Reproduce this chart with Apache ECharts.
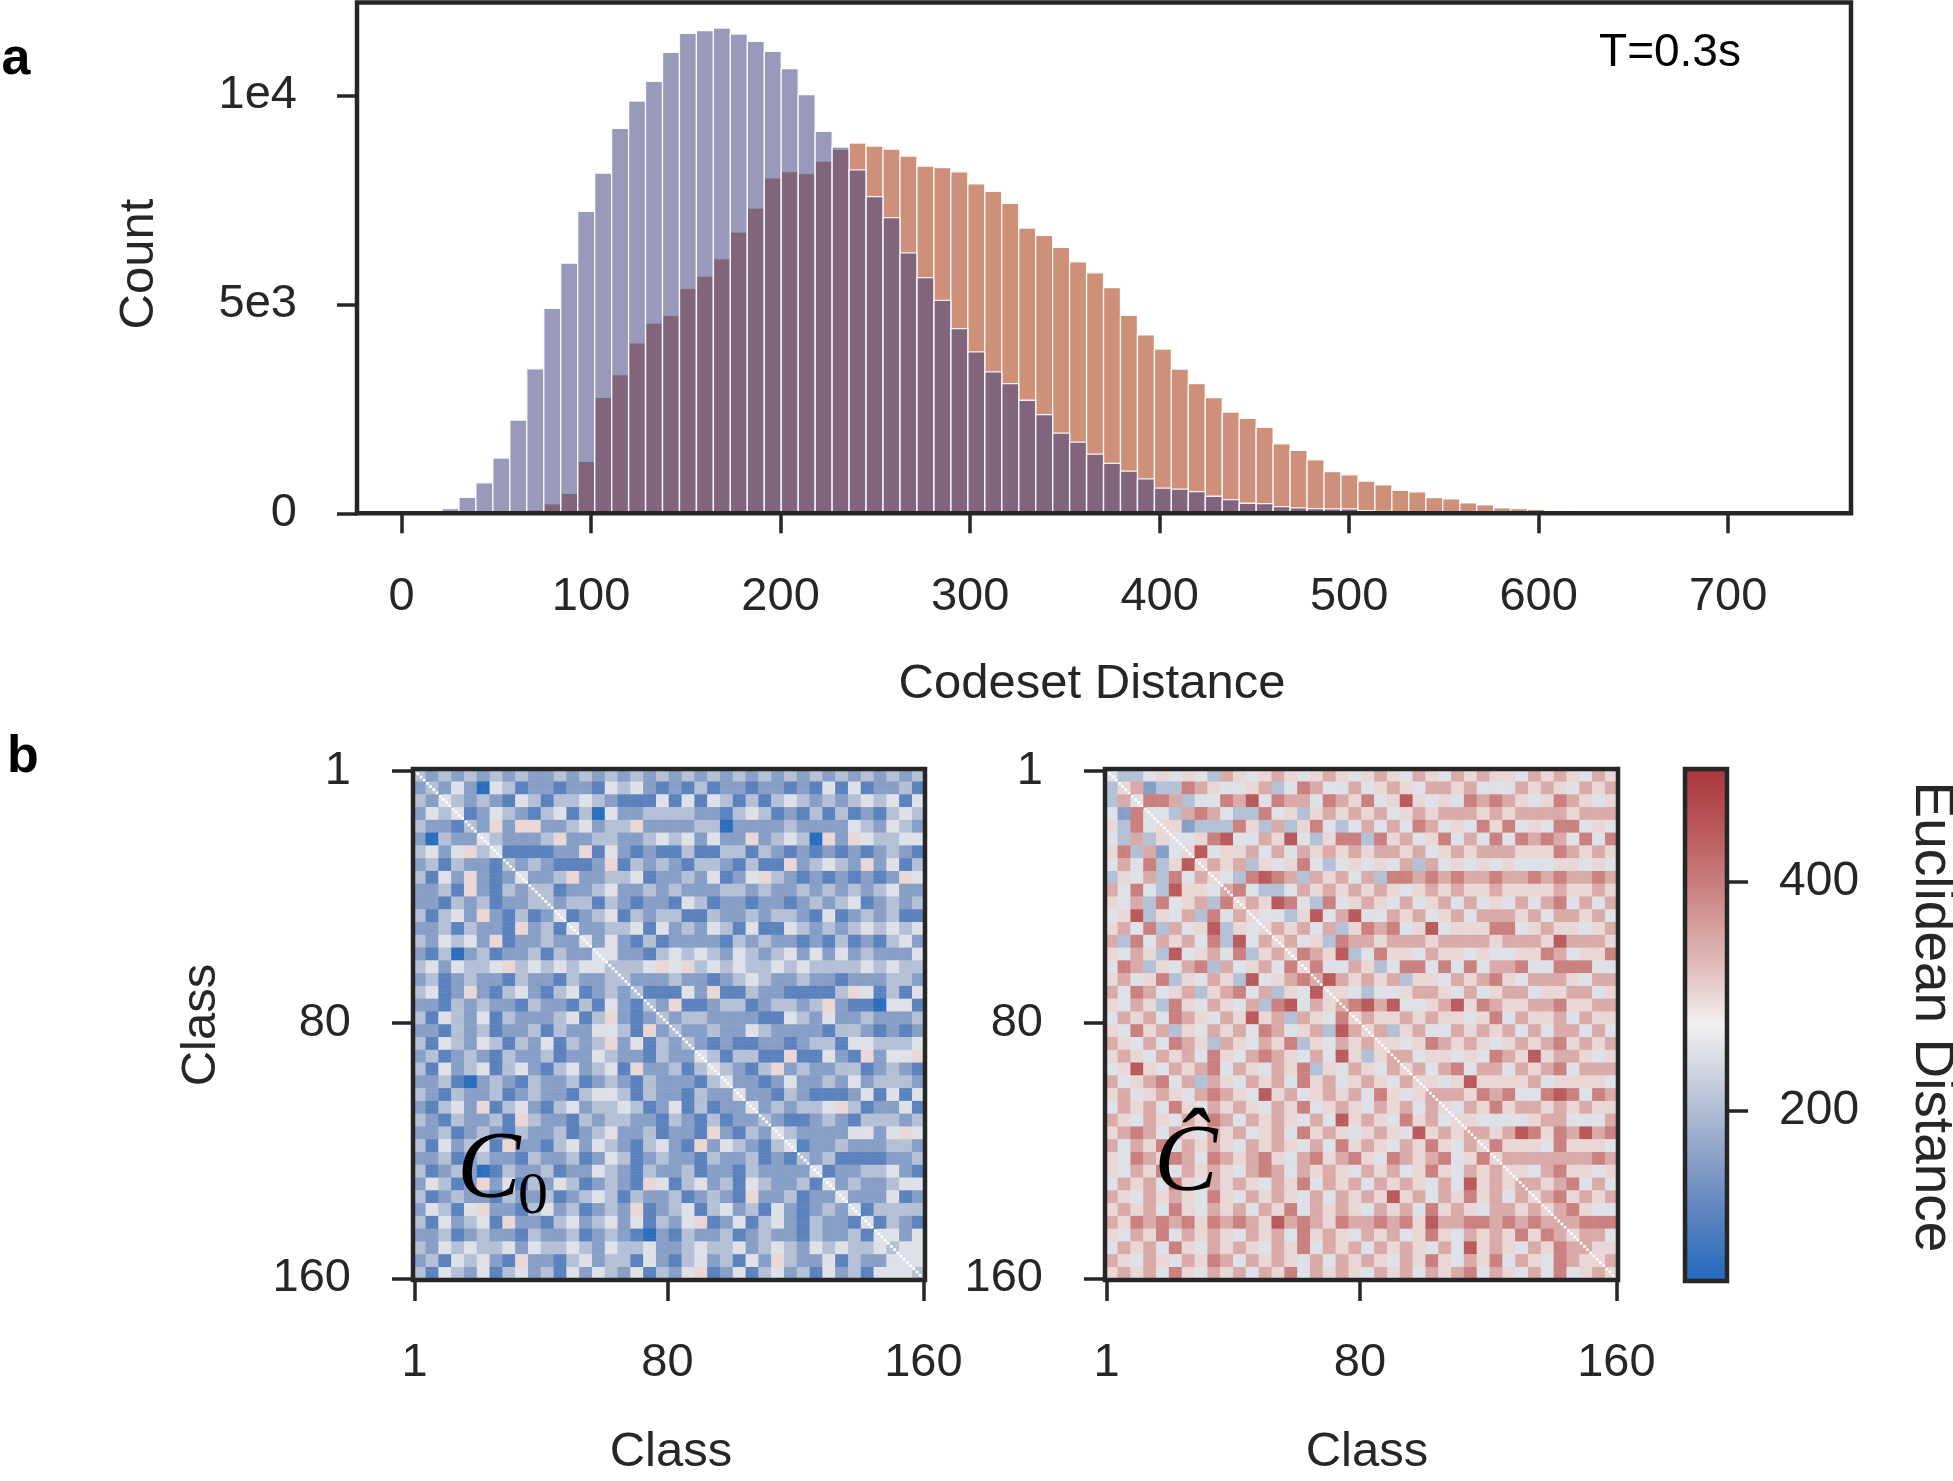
<!DOCTYPE html>
<html>
<head>
<meta charset="utf-8">
<script src="https://cdn.jsdelivr.net/npm/echarts@6/dist/echarts.min.js"></script>
<style>
  html, body { margin: 0; padding: 0; background: #fff; }
  #chart { width: 1953px; height: 1481px; }
</style>
</head>
<body>
<div id="chart"></div>
<script>
// histogram bins (codeset distance)
var binStart = 21.35;
var binWidth = 8.95;
var countC0 = [112, 384, 728, 1320, 2232, 3456, 4904, 5984, 7224, 8136,
  9210, 9864, 10335, 11029, 11483, 11546, 11610, 11467, 11292, 11053,
  10637, 10014, 9139, 8763, 8216, 7576, 7072, 6232, 5640, 5096,
  4416, 3864, 3384, 3104, 2704, 2360, 1920, 1704, 1416, 1192,
  1008, 824, 600, 576, 520, 408, 328, 240, 232, 160,
  128, 112, 104, 104, 64, 48, 24, 8, 0, 0,
  0, 0, 0, 0, 0, 0, 0];
var countChat = [0, 0, 0, 0, 0, 80, 224, 480, 1240, 2776,
  3320, 4080, 4552, 4736, 5384, 5672, 6096, 6728, 7304, 8024,
  8176, 8128, 8424, 8704, 8856, 8784, 8712, 8544, 8304, 8272,
  8168, 7880, 7704, 7416, 6824, 6648, 6360, 6016, 5752, 5400,
  4736, 4272, 3928, 3448, 3104, 2768, 2424, 2272, 2056, 1664,
  1504, 1280, 1000, 920, 768, 680, 552, 512, 376, 344,
  248, 200, 128, 112, 96, 56, 72];
var xTicks = [0, 100, 200, 300, 400, 500, 600, 700];
var yTicks = [0, 5000, 10000];
var yTickText = {0: '0', 5000: '5e3', 10000: '1e4'};

// distance matrices, read as 4x4 class blocks (lower triangle, digit = level)
var levels = [60, 108, 156, 204, 252, 300, 348, 396, 444, 492];
var blocksC0 = [
  "3", "23", "324", "2434", "32213", "203224", "3424534", "23132213", "314252124", "2231521323",
  "2213231223 3", "3134252131 24", "2231322152 314", "3243425122 3224", "2130231223 13224",
  "3424334534 343443", "2312322132 2132233", "3412521342 13412323", "2213232213 221314213", "3143241322 2341352123",
  "2213231223 1322443152 3", "3143243132 4132352413 23", "2312321322 3122432213 224", "3142341342 1342341522 3134",
  "2231023213 2231232132 22134", "3213223123 2213443132 213224", "2134251342 1342334312 4131224",
  "3213223153 2213233221 32131223", "2231232132 2312342231 221521324", "3142341522 1342432134 2152432134",
  "2231232213 2231243123 2213223121 3", "3123201322 3122432132 2312213222 24", "2431252413 2431232154 1342314322 314",
  "3123221322 3123431322 3123215223 1224", "2431452213 4231232512 3413423142 12324",
  "3142341522 1342342413 2451241342 132214", "2231232213 2231232102 1322312322 1322314",
  "3243433424 3343243342 2343342343 24343343", "2314342152 2134233142 1342314253 224132244",
  "3143241342 3142432413 2451241342 3142314443"
];
var blocksChat = [
  "4", "35", "364", "4274", "53745", "436354", "5736245", "46473585", "354637465", "6474385546",
  "5463745637 5", "4583546374 65", "5647364583 545", "6374656473 8465", "5465384564 73565",
  "4763546736 456475", "5645735465 3845676", "6476456356 74635485", "5465375465 463784656", "4656476546 5856365475",
  "5475635465 6476456386 5", "6546476536 5465735465 65", "5654656475 4676546485 356", "4585465674 6546573546 5465",
  "6456746365 4656475645 65465", "5645654676 5485645656 475456", "4656475465 6546574565 4656465",
  "6546546576 4656546485 65475645", "5676465465 6456475654 565485656", "6465746565 4656546475 6546575465",
  "5476576476 5675467567 5476567457 5", "5465746565 4676465654 6564575465 65", "4656475465 6546574656 4656546485 656",
  "6546565475 4656546465 6585646575 6465", "5656475465 6465746565 4656475654 66565",
  "6576767576 7658676576 6767586677 676766", "5465746565 4656475654 6564575465 6575765",
  "4656475465 6546574656 4656546485 65465766", "6546546576 4656546465 6546575465 746547655",
  "5656475465 6465746565 4656465674 6546474565"
];
var nClass = 160;
var classTicks = [1, 80, 160];
var distMin = 51.4, distMax = 498;
var cbarTicks = [200, 400];
var vlag = ['#2369bd', '#5a82bd', '#8ea3c8', '#c2cadb', '#f2f0f0', '#dfb9b7', '#cd8886', '#ba5b5d', '#a9373b'];

var FONT = "'Liberation Sans', Arial, sans-serif";
var SERIF = "'Liberation Serif', 'DejaVu Serif', serif";
var INK = '#262626';

function histData(counts) {
  var d = [];
  counts.forEach(function (c, k) {
    if (c > 0) d.push([binStart + k * binWidth, binStart + (k + 1) * binWidth, c]);
  });
  return d;
}

function heatData(blocks) {
  var rows = blocks.map(function (s) { return s.replace(/ /g, ''); });
  var cells = [];
  for (var i = 0; i < nClass; i++) {
    for (var j = 0; j < nClass; j++) {
      if (i === j) continue; // diagonal masked
      var bi = Math.floor(i / 4), bj = Math.floor(j / 4);
      var d = bi >= bj ? rows[bi][bj] : rows[bj][bi];
      cells.push([j, i, levels[+d]]);
    }
  }
  return cells;
}

function barRenderer(color) {
  return function (params, api) {
    var p0 = api.coord([api.value(0), api.value(2)]);
    var p1 = api.coord([api.value(1), 0]);
    return {
      type: 'rect',
      shape: { x: p0[0], y: p0[1], width: p1[0] - p0[0], height: p1[1] - p0[1] },
      style: { fill: color, stroke: 'rgba(255,255,255,0.9)', lineWidth: 1.3 }
    };
  };
}

var classNames = [];
for (var n = 1; n <= nClass; n++) classNames.push(String(n));
function isClassTick(idx) { return classTicks.indexOf(idx + 1) >= 0; }

function heatAxes(gridIndex) {
  var x = {
    type: 'category', gridIndex: gridIndex, data: classNames, position: 'bottom',
    axisLine: { show: false, onZero: false },
    axisTick: { show: true, inside: false, length: 21, alignWithLabel: true, interval: isClassTick, lineStyle: { color: INK, width: 3.5 } },
    axisLabel: { interval: isClassTick, margin: 60, fontSize: 47, fontFamily: FONT, color: INK },
    splitLine: { show: false }
  };
  var y = {
    type: 'category', gridIndex: gridIndex, data: classNames, inverse: true,
    axisLine: { show: false, onZero: false },
    axisTick: { show: true, inside: false, length: 21, alignWithLabel: true, interval: isClassTick, lineStyle: { color: INK, width: 3.5 } },
    axisLabel: { interval: isClassTick, margin: 62, fontSize: 47, fontFamily: FONT, color: INK },
    splitLine: { show: false }
  };
  return [x, y];
}

var hist = { left: 357, top: 2.5, width: 1494, height: 510.8 };
var heatL = { left: 413, top: 769, width: 512, height: 511 };
var heatR = { left: 1105, top: 769, width: 513, height: 511 };
var cbar = { left: 1685, top: 769, width: 42, height: 512 };

function frame(g) {
  return {
    type: 'rect', z: 100, silent: true,
    shape: { x: g.left, y: g.top, width: g.width, height: g.height },
    style: { fill: null, stroke: INK, lineWidth: 4.5 }
  };
}
function label(text, x, y, size, extra) {
  var st = { text: text, fontSize: size, fontFamily: FONT, fill: INK, align: 'center', verticalAlign: 'middle' };
  for (var k in (extra || {})) st[k] = extra[k];
  return { type: 'text', x: x, y: y, z: 100, style: st };
}
function vlabel(text, x, y, size, rot) {
  return { type: 'text', x: x, y: y, rotation: rot, z: 100,
    style: { text: text, fontSize: size, fontFamily: FONT, fill: INK, align: 'center', verticalAlign: 'middle' } };
}

var myChart = echarts.init(document.getElementById('chart'), null, { renderer: 'canvas' });

var axL = heatAxes(1), axR = heatAxes(2);

var option = {
  animation: false,
  backgroundColor: '#ffffff',
  grid: [
    { left: hist.left, top: hist.top, width: hist.width, height: hist.height },
    { left: heatL.left, top: heatL.top, width: heatL.width, height: heatL.height },
    { left: heatR.left, top: heatR.top, width: heatR.width, height: heatR.height },
    { left: cbar.left, top: cbar.top, width: cbar.width, height: cbar.height }
  ],
  xAxis: [
    {
      type: 'value', gridIndex: 0, min: -23.5, max: 764.8,
      axisLine: { show: false, onZero: false },
      axisTick: { show: true, inside: false, length: 20, customValues: xTicks, lineStyle: { color: INK, width: 3.5 } },
      axisLabel: { customValues: xTicks, margin: 60, fontSize: 47, fontFamily: FONT, color: INK },
      splitLine: { show: false }
    },
    axL[0], axR[0],
    { type: 'value', gridIndex: 3, min: 0, max: 1, show: false }
  ],
  yAxis: [
    {
      type: 'value', gridIndex: 0, min: 0, max: 12220,
      axisLine: { show: false, onZero: false },
      axisTick: { show: true, inside: false, length: 20, customValues: yTicks, lineStyle: { color: INK, width: 3.5 } },
      axisLabel: {
        customValues: yTicks, margin: 60, fontSize: 47, fontFamily: FONT, color: INK,
        formatter: function (v) { return yTickText[v] !== undefined ? yTickText[v] : ''; }
      },
      splitLine: { show: false }
    },
    axL[1], axR[1],
    {
      type: 'value', gridIndex: 3, min: distMin, max: distMax, position: 'right',
      axisLine: { show: false, onZero: false },
      axisTick: { show: true, inside: false, length: 21, customValues: cbarTicks, lineStyle: { color: INK, width: 3.5 } },
      axisLabel: { customValues: cbarTicks, margin: 52, fontSize: 48, fontFamily: FONT, color: INK },
      splitLine: { show: false }
    }
  ],
  visualMap: {
    type: 'continuous', show: false, min: distMin, max: distMax,
    seriesIndex: [2, 3], inRange: { color: vlag }
  },
  series: [
    {
      name: 'Ĉ', type: 'custom', xAxisIndex: 0, yAxisIndex: 0, clip: true,
      renderItem: barRenderer('#ce9078'), encode: { x: [0, 1], y: 2 },
      data: histData(countChat)
    },
    {
      name: 'C0', type: 'custom', xAxisIndex: 0, yAxisIndex: 0, clip: true,
      renderItem: barRenderer('rgba(62,62,128,0.53)'), encode: { x: [0, 1], y: 2 },
      data: histData(countC0)
    },
    {
      name: 'C0 matrix', type: 'heatmap', xAxisIndex: 1, yAxisIndex: 1,
      progressive: 0, data: heatData(blocksC0)
    },
    {
      name: 'Chat matrix', type: 'heatmap', xAxisIndex: 2, yAxisIndex: 2,
      progressive: 0, data: heatData(blocksChat)
    },
    {
      name: 'colorbar', type: 'custom', xAxisIndex: 3, yAxisIndex: 3,
      renderItem: function (params, api) {
        var p0 = api.coord([0, distMax]);
        var p1 = api.coord([1, distMin]);
        var stops = vlag.slice().reverse().map(function (c, i, a) {
          return { offset: i / (a.length - 1), color: c };
        });
        return {
          type: 'rect',
          shape: { x: p0[0], y: p0[1], width: p1[0] - p0[0], height: p1[1] - p0[1] },
          style: { fill: new echarts.graphic.LinearGradient(0, 0, 0, 1, stops) }
        };
      },
      data: [[0, distMin]]
    }
  ],
  graphic: [
    frame(hist), frame(heatL), frame(heatR), frame(cbar),
    label('a', 16, 60, 52, { fontWeight: 'bold', fill: '#000' }),
    label('b', 23, 758, 52, { fontWeight: 'bold', fill: '#000' }),
    label('T=0.3s', 1670, 53, 46, { fill: '#000' }),
    label('Codeset Distance', 1092, 684, 49),
    vlabel('Count', 139, 264, 49, Math.PI / 2),
    vlabel('Class', 201, 1025, 49, Math.PI / 2),
    label('Class', 671, 1452, 49),
    label('Class', 1367, 1452, 49),
    vlabel('Euclidean Distance', 1931, 1017, 55, -Math.PI / 2),
    label('C', 489, 1172, 95, { fontFamily: SERIF, fontStyle: 'italic', fill: '#000' }),
    label('0', 533, 1197, 60, { fontFamily: SERIF, fill: '#000' }),
    label('Ĉ', 1186, 1165, 95, { fontFamily: SERIF, fontStyle: 'italic', fill: '#000' })
  ]
};

myChart.setOption(option);
</script>
</body>
</html>
